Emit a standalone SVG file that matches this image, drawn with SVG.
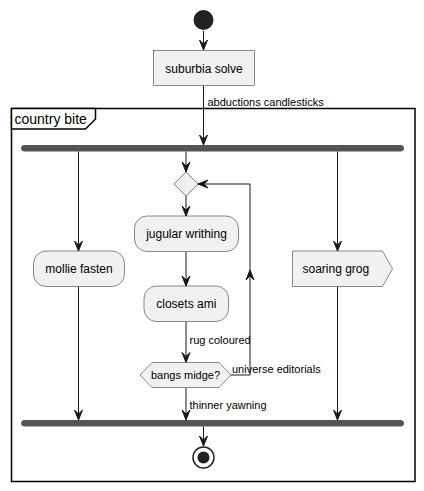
<svg xmlns="http://www.w3.org/2000/svg" width="424" height="491" viewBox="0 0 424 491">
<defs>
<style>
.box{fill:#F1F1F1;stroke:#181818;stroke-width:0.5}
.ln{fill:none;stroke:#181818;stroke-width:1}
.ah{fill:#181818;stroke:#181818;stroke-width:1}
.bar{fill:#555555;stroke:#555555;stroke-width:1}
.t12{font-family:"Liberation Sans",Arial,sans-serif;font-size:12px;fill:#000}
.t11{font-family:"Liberation Sans",Arial,sans-serif;font-size:11px;fill:#000}
.t14{font-family:"Liberation Sans",Arial,sans-serif;font-size:14px;fill:#000}
</style>
</defs>
<rect width="424" height="491" fill="#FFFFFF"/>
<g id="frame">
<rect x="11.5" y="108.5" width="403.5" height="373" fill="none" stroke="#000" stroke-width="1.5"/>
<polygon points="11.5,108.5 95.5,108.5 95.5,119 85.5,129 11.5,129" fill="#FFFFFF" stroke="#000" stroke-width="1.5"/>
<text class="t14" x="14.5" y="124">country bite</text>
</g>
<g id="connectors">
<line class="ln" x1="203.5" y1="31" x2="203.5" y2="50"/>
<polygon class="ah" points="203.5,50 199.5,40 203.5,44 207.5,40"/>
<line class="ln" x1="203.5" y1="85.5" x2="203.5" y2="145"/>
<polygon class="ah" points="203.5,145 199.5,135 203.5,139 207.5,135"/>
<text class="t11" x="207.5" y="106">abductions candlesticks</text>
<line class="ln" x1="78.5" y1="151.5" x2="78.5" y2="251"/>
<polygon class="ah" points="78.5,251 74.5,241 78.5,245 82.5,241"/>
<line class="ln" x1="186" y1="151.5" x2="186" y2="172"/>
<polygon class="ah" points="186,172 182,162 186,166 190,162"/>
<line class="ln" x1="337.5" y1="151.5" x2="337.5" y2="251"/>
<polygon class="ah" points="337.5,251 333.5,241 337.5,245 341.5,241"/>
<line class="ln" x1="186" y1="196" x2="186" y2="216"/>
<polygon class="ah" points="186,216 182,206 186,210 190,206"/>
<line class="ln" x1="186" y1="251.5" x2="186" y2="286"/>
<polygon class="ah" points="186,286 182,276 186,280 190,276"/>
<line class="ln" x1="186" y1="321.5" x2="186" y2="362.5"/>
<polygon class="ah" points="186,362.5 182,352.5 186,356.5 190,352.5"/>
<text class="t11" x="189.5" y="343.5">rug coloured</text>
<polyline class="ln" points="231,375 250,375 250,184 198,184"/>
<polygon class="ah" points="250,270 246,280 250,276 254,280"/>
<polygon class="ah" points="198,184 208,180 204,184 208,188"/>
<text class="t11" x="232" y="372.5">universe editorials</text>
<line class="ln" x1="186" y1="387.5" x2="186" y2="420"/>
<polygon class="ah" points="186,420 182,410 186,414 190,410"/>
<text class="t11" x="189.5" y="408.5">thinner yawning</text>
<line class="ln" x1="78.5" y1="286.5" x2="78.5" y2="420"/>
<polygon class="ah" points="78.5,420 74.5,410 78.5,414 82.5,410"/>
<line class="ln" x1="337.5" y1="286.5" x2="337.5" y2="420"/>
<polygon class="ah" points="337.5,420 333.5,410 337.5,414 341.5,410"/>
<line class="ln" x1="203.5" y1="426.5" x2="203.5" y2="446"/>
<polygon class="ah" points="203.5,446 199.5,436 203.5,440 207.5,436"/>
</g>
<g id="start"><circle cx="203.5" cy="20" r="10" fill="#222222"/></g>
<g id="suburbia-solve">
<rect class="box" x="153.5" y="50.5" width="101" height="35"/>
<text class="t12" x="204" y="72.5" text-anchor="middle">suburbia solve</text>
</g>
<g id="fork"><rect class="bar" x="21.5" y="145.5" width="382" height="5.5" rx="2.5"/></g>
<g id="merge-diamond"><polygon class="box" points="186,172 198,184 186,196 174,184"/></g>
<g id="mollie-fasten">
<rect class="box" x="33.5" y="251" width="91" height="35.5" rx="12.5"/>
<text class="t12" x="79" y="273" text-anchor="middle">mollie fasten</text>
</g>
<g id="jugular-writhing">
<rect class="box" x="134.5" y="216" width="104" height="35.5" rx="12.5"/>
<text class="t12" x="186.5" y="238" text-anchor="middle">jugular writhing</text>
</g>
<g id="closets-ami">
<rect class="box" x="144" y="286" width="84.5" height="35.5" rx="12.5"/>
<text class="t12" x="186.3" y="308" text-anchor="middle">closets ami</text>
</g>
<g id="soaring-grog">
<polygon class="box" points="292.5,251 382.5,251 392.5,268.8 382.5,286.5 292.5,286.5"/>
<text class="t12" x="302.5" y="273">soaring grog</text>
</g>
<g id="bangs-midge">
<polygon class="box" points="140,375 152,362.5 219,362.5 231,375 219,387.5 152,387.5"/>
<text class="t11" x="185.5" y="379" text-anchor="middle">bangs midge?</text>
</g>
<g id="join"><rect class="bar" x="21.5" y="420.5" width="382" height="5.5" rx="2.5"/></g>
<g id="end">
<circle cx="203.5" cy="457.5" r="10.5" fill="none" stroke="#222222" stroke-width="1.5"/>
<circle cx="203.5" cy="457.5" r="6" fill="#222222"/>
</g>
</svg>
